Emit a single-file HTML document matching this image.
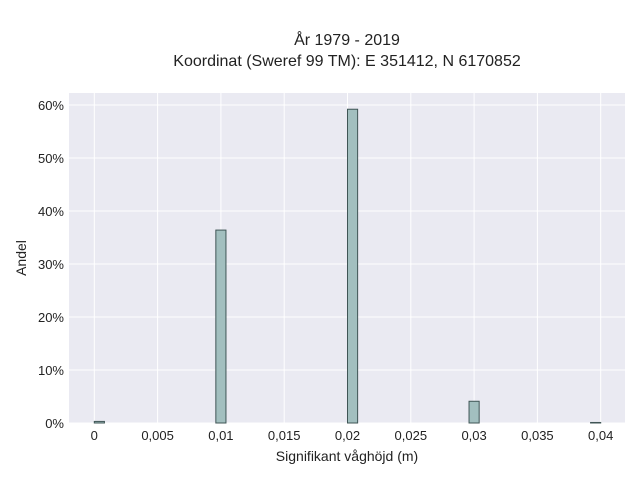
<!DOCTYPE html>
<html><head><meta charset="utf-8"><style>
body{margin:0;background:#fff;}
svg text{font-family:"Liberation Sans",sans-serif;fill:#222;}
</style></head><body>
<svg width="640" height="480" xmlns="http://www.w3.org/2000/svg">
<rect x="0" y="0" width="640" height="480" fill="#fff"/>
<text x="347" y="45" text-anchor="middle" font-size="16">År 1979 - 2019</text>
<text x="347" y="66" text-anchor="middle" font-size="16">Koordinat (Sweref 99 TM): E 351412, N 6170852</text>
<rect x="69" y="93" width="556" height="330" fill="#eaeaf2"/>
<g id="grid"></g><g id="bars"></g><g id="ticks"></g>
<text x="347" y="461" text-anchor="middle" font-size="14">Signifikant våghöjd (m)</text>
<text transform="translate(26,258) rotate(-90)" text-anchor="middle" font-size="14">Andel</text>
</svg>
<script>
const binStarts=[0,0.0096,0.02,0.0296,0.0392];
const shares=[0.3,36.4,59.2,4.1,0.1];
const binWidth=0.0008;
const xTicks=[0,0.005,0.01,0.015,0.02,0.025,0.03,0.035,0.04];
const xTickLabels=["0","0,005","0,01","0,015","0,02","0,025","0,03","0,035","0,04"];
const yTicks=[0,10,20,30,40,50,60];
const yTickLabels=["0%","10%","20%","30%","40%","50%","60%"];
const NS="http://www.w3.org/2000/svg";
const xs=v=>94.3+v*12660;
const ys=v=>423-v*5.3;
const grid=document.getElementById('grid'),bars=document.getElementById('bars'),ticks=document.getElementById('ticks');
function mk(tag,attrs,parent){const e=document.createElementNS(NS,tag);for(const k in attrs)e.setAttribute(k,attrs[k]);parent.appendChild(e);return e;}
xTicks.forEach((t,i)=>{
 const l=mk('line',{x1:xs(t),x2:xs(t),y1:93,y2:423,stroke:'#fff','stroke-width':1},grid);
 
 
 const tx=mk('text',{x:xs(t),y:440,'text-anchor':'middle','font-size':13},ticks);
 tx.textContent=xTickLabels[i];
 
 
});
yTicks.forEach((t,i)=>{
 const l=mk('line',{x1:69,x2:625,y1:ys(t),y2:ys(t),stroke:'#fff','stroke-width':1},grid);
 
 
 const tx=mk('text',{x:64,y:ys(t)+5,'text-anchor':'end','font-size':13},ticks);
 tx.textContent=yTickLabels[i];
 
 
});
binStarts.forEach((b,i)=>{
 const x0=xs(b),x1=xs(b+binWidth),y0=ys(shares[i]);
 const r=mk('rect',{x:x0,y:y0,width:x1-x0,height:423-y0,fill:'#a2bfbf',stroke:'#3f5555','stroke-width':1},bars);
 
 
});
</script>
</body></html>
